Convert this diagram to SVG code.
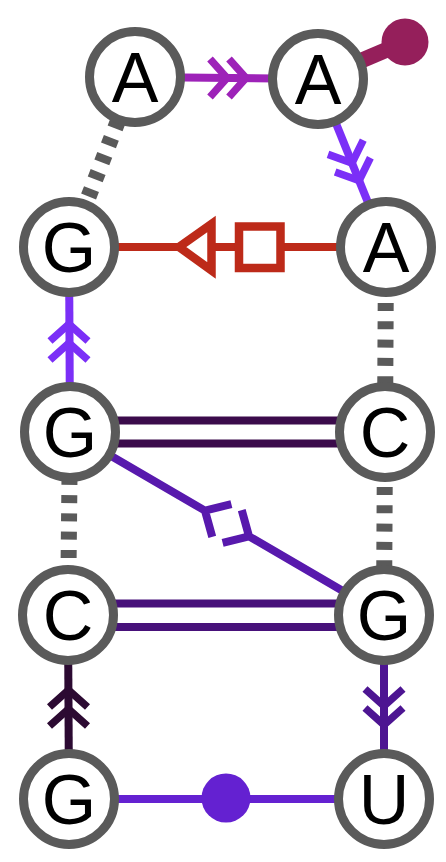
<svg xmlns="http://www.w3.org/2000/svg" xmlns:xlink="http://www.w3.org/1999/xlink" width="446" height="862" viewBox="0 0 446 862">
<style>
.node circle{fill:#fff;stroke:#5a5a5a;stroke-width:9}
.node text{font-family:"Liberation Sans",Arial,sans-serif;font-size:70px;fill:#000;text-anchor:middle}
.e{fill:none;stroke-width:8;stroke-linecap:butt;stroke-linejoin:miter}
.dash{fill:none;stroke:#5a5a5a;stroke-width:16;stroke-dasharray:8 10.3}
</style>
<defs>
<path id="dchev" d="M-17,-19 L0,0 L-17,19 M2,-19 L19,0 L2,19" fill="none" stroke-width="7.5" stroke-linejoin="miter"/>
</defs>
<g id="edges">
<line class="dash" x1="135" y1="77" x2="69" y2="247" stroke-dashoffset="7.9"/>
<line class="dash" x1="386" y1="247" x2="385" y2="432" stroke-dashoffset="17.2"/>
<line class="dash" x1="385" y1="432" x2="384" y2="615" stroke-dashoffset="18.2"/>
<line class="dash" x1="68" y1="615" x2="70" y2="432" stroke-dashoffset="16.2"/>
<g id="e-A1-A2"><line class="e" stroke="#9d22b8" x1="135" y1="77" x2="318" y2="79"/><use xlink:href="#dchev" stroke="#9d22b8" transform="translate(227,78)"/></g>
<g id="e-A2-A3"><line class="e" stroke="#7b2ff7" x1="318" y1="79" x2="386" y2="247"/><use xlink:href="#dchev" stroke="#7b2ff7" transform="translate(352,163) rotate(68)"/></g>
<g id="e-A2-tail"><line stroke="#951f5b" stroke-width="16" x1="318" y1="79" x2="405" y2="42"/><circle cx="405" cy="42" r="23.5" fill="#951f5b"/></g>
<g id="e-A3-G2"><line class="e" stroke="#bd2a19" x1="386" y1="247" x2="69" y2="247"/>
<rect x="239" y="226.5" width="41.5" height="41.5" fill="#fff" stroke="#bd2a19" stroke-width="8.5"/>
<polygon points="179,247 211.5,224 211.5,270.5" fill="#fff" stroke="#bd2a19" stroke-width="8.5" stroke-linejoin="miter"/></g>
<g id="e-G3-G2"><line class="e" stroke="#7b2ff7" x1="70" y1="432" x2="69" y2="247"/><use xlink:href="#dchev" stroke="#7b2ff7" transform="translate(69,343) rotate(-90)"/></g>
<g id="e-G3-C3"><line class="e" stroke="#3b0b4b" x1="70" y1="420.5" x2="385" y2="420.5"/><line class="e" stroke="#3b0b4b" x1="70" y1="443.5" x2="385" y2="443.5"/></g>
<g id="e-G3-G4"><path class="e" stroke="#5819ad" transform="translate(227,523.5) rotate(30.23)" d="M-181.7,0 H-25.5 M-6,-19 L-25.5,0 L-6,19 M6,-19 L25.5,0 L6,19 M25.5,0 H181.7"/></g>
<g id="e-C4-G4"><line class="e" stroke="#47117a" x1="68" y1="603.5" x2="384" y2="603.5"/><line class="e" stroke="#47117a" x1="68" y1="627" x2="384" y2="627"/></g>
<g id="e-G5-C4"><line class="e" stroke="#2c0a32" x1="69" y1="799" x2="68" y2="615"/><use xlink:href="#dchev" stroke="#2c0a32" transform="translate(68.5,709) rotate(-90)"/></g>
<g id="e-G4-U5"><line class="e" stroke="#4d1592" x1="384" y1="615" x2="384" y2="799"/><use xlink:href="#dchev" stroke="#4d1592" transform="translate(384,706) rotate(90)"/></g>
<g id="e-G5-U5"><line class="e" stroke="#6421d1" x1="69" y1="799" x2="384" y2="799"/><circle cx="226" cy="798" r="24.5" fill="#6421d1"/></g>
</g>
<g id="n-A1" class="node"><circle cx="135" cy="77" r="45.5"/><text x="135" y="102">A</text></g>
<g id="n-A2" class="node"><circle cx="318" cy="79" r="45.5"/><text x="318" y="104">A</text></g>
<g id="n-G2" class="node"><circle cx="69" cy="247" r="45.5"/><text x="69" y="272">G</text></g>
<g id="n-A3" class="node"><circle cx="386" cy="247" r="45.5"/><text x="386" y="272">A</text></g>
<g id="n-G3" class="node"><circle cx="70" cy="432" r="45.5"/><text x="70" y="457">G</text></g>
<g id="n-C3" class="node"><circle cx="385" cy="432" r="45.5"/><text x="385" y="457">C</text></g>
<g id="n-C4" class="node"><circle cx="68" cy="615" r="45.5"/><text x="68" y="640">C</text></g>
<g id="n-G4" class="node"><circle cx="384" cy="615" r="45.5"/><text x="384" y="640">G</text></g>
<g id="n-G5" class="node"><circle cx="69" cy="799" r="45.5"/><text x="69" y="824">G</text></g>
<g id="n-U5" class="node"><circle cx="384" cy="799" r="45.5"/><text x="384" y="824">U</text></g>
</svg>
